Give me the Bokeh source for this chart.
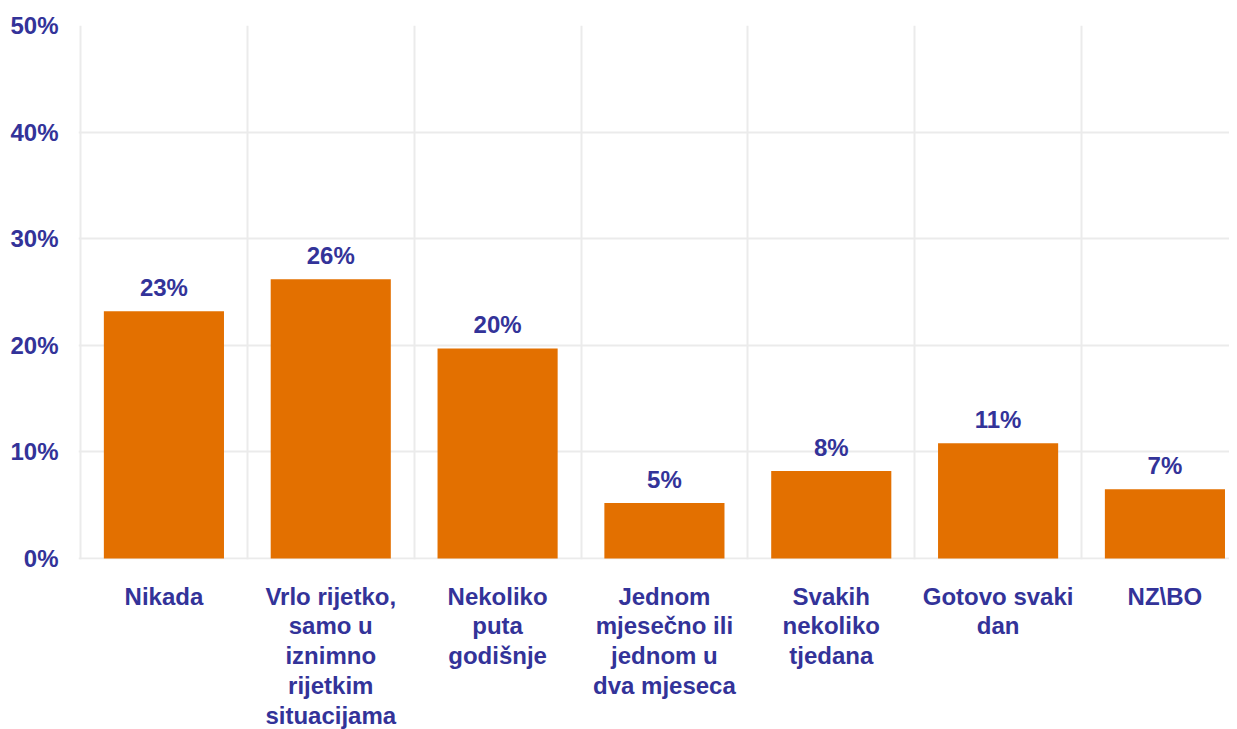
from bokeh.plotting import figure
from bokeh.models import Range1d, FixedTicker, ColumnDataSource
from bokeh.core.properties import value
from bokeh.embed import file_html
from bokeh.resources import INLINE

categories = [
    "Nikada",
    "Vrlo rijetko,\nsamo u\niznimno\nrijetkim\nsituacijama",
    "Nekoliko\nputa\ngodišnje",
    "Jednom\nmjesečno ili\njednom u\ndva mjeseca",
    "Svakih\nnekoliko\ntjedana",
    "Gotovo svaki\ndan",
    "NZ\\BO",
]
values = [23.2, 26.2, 19.7, 5.2, 8.2, 10.8, 6.5]
value_labels = ["23%", "26%", "20%", "5%", "8%", "11%", "7%"]
y_ticks = [0, 10, 20, 30, 40, 50]
y_tick_labels = ["0%", "10%", "20%", "30%", "40%", "50%"]

TEXT = "#333399"
BAR = "#E37000"
FONT = "Liberation Sans"

xs = [i + 0.5 for i in range(len(categories))]
src = ColumnDataSource(dict(x=xs, top=values, lab=value_labels))

p = figure(frame_width=1151, frame_height=534, output_backend="svg", toolbar_location=None,
           x_range=Range1d(-0.012, 6.887), y_range=Range1d(-0.1, 50),
           min_border_left=78, min_border_right=0, min_border_top=25, min_border_bottom=0)
p.outline_line_color = None
p.background_fill_color = "white"

p.vbar(x="x", top="top", width=0.72, bottom=0, source=src, color=BAR, line_color=None)
p.text(x="x", y="top", text="lab", source=src, text_align="center", text_baseline="bottom",
       y_offset=-10, text_font=value(FONT), text_font_style="bold", text_font_size="24px",
       text_color=TEXT)

# axes
p.xaxis.ticker = FixedTicker(ticks=xs)
p.xaxis.major_label_overrides = {x: c for x, c in zip(xs, categories)}
p.yaxis.ticker = FixedTicker(ticks=y_ticks)
p.yaxis.major_label_overrides = {t: l for t, l in zip(y_ticks, y_tick_labels)}
for ax in (p.xaxis, p.yaxis):
    ax.axis_line_color = None
    ax.major_tick_line_color = None
    ax.minor_tick_line_color = None
    ax.major_tick_out = 0
    ax.major_tick_in = 0
    ax.major_label_text_font = FONT
    ax.major_label_text_font_style = "bold"
    ax.major_label_text_font_size = "24px"
    ax.major_label_text_color = TEXT
p.xaxis.major_label_standoff = 23
p.xaxis.major_label_text_line_height = 1.11
p.yaxis.major_label_standoff = 20

# grid
p.xgrid.ticker = FixedTicker(ticks=[0, 1, 2, 3, 4, 5, 6])
p.xgrid.grid_line_color = "#EBEBEB"
p.xgrid.grid_line_width = 2
p.ygrid.ticker = FixedTicker(ticks=y_ticks)
p.ygrid.grid_line_color = "#EBEBEB"
p.ygrid.grid_line_width = 2

open("out.html", "w").write(file_html(p, INLINE))
